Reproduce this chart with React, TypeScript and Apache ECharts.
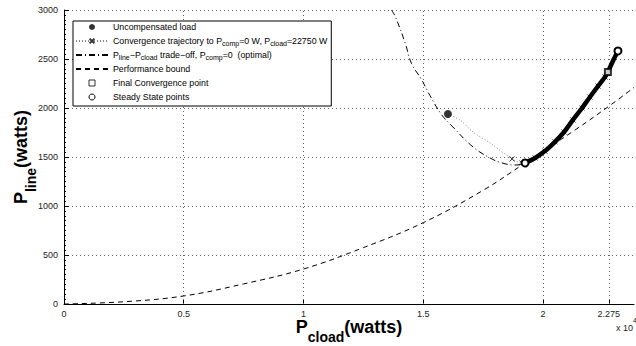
import React, { useEffect, useRef } from 'react';
import * as echarts from 'echarts';

const FONT = '"Liberation Sans", Arial, Helvetica, sans-serif';

// x axis ticks (W) and their labels (x 10^4)
const xTicks = [0, 5000, 10000, 15000, 20000, 22750];
const xTickLabels = ['0', '0.5', '1', '1.5', '2', '2.275'];

// Performance bound (dashed)
const boundX = [0, 2500, 5000, 7500, 10000, 12500, 15000, 17500, 19250, 21340, 22880, 23800];
const boundY = [0, 23, 82, 205, 357, 575, 830, 1160, 1439, 1776, 2041, 2210];

// P_line - P_cload trade-off (dash-dot), descending branch
const tradeX = [13670, 13820, 14240, 14510, 14930, 15210, 15760, 16200, 17080, 17790, 18290, 18830];
const tradeY = [3000, 2940, 2668, 2454, 2291, 2158, 1934, 1816, 1602, 1490, 1439, 1418];

// Steady-state band (dense steady state points)
const bandX = [19250, 19670, 20080, 20500, 20880, 21250, 21630, 21960, 22300, 22590, 22710, 22920, 23130];
const bandY = [1439, 1490, 1560, 1655, 1755, 1878, 2000, 2112, 2224, 2316, 2367, 2480, 2582];
const bandCircles = [0, 12]; // indices where steady-state circles are visible

// Convergence trajectory (dotted, x markers), start part
const trajX = [16030, 16530, 17080, 17790, 18710, 19120];
const trajY = [1939, 1878, 1755, 1643, 1480, 1439];
const trajMarked = [4, 5]; // iterations with a visible x marker in the first part

const uncompensated = [[16030, 1939]];
const finalPoint = [[22710, 2367]];

const legendNames = [
  'Uncompensated load',
  'Convergence trajectory',
  'Trade-off',
  'Performance bound',
  'Final Convergence point',
  'Steady State points',
];
const legendLabels: Record<string, string> = {
  'Uncompensated load': 'Uncompensated load',
  'Convergence trajectory': 'Convergence trajectory to P{s|comp}=0 W, P{s|cload}=22750 W',
  'Trade-off': 'P{s|line}\u2212P{s|cload} trade\u2212off, P{s|comp}=0  (optimal)',
  'Performance bound': 'Performance bound',
  'Final Convergence point': 'Final Convergence point',
  'Steady State points': 'Steady State points',
};

const zip = (xs: number[], ys: number[]) => xs.map((x, i) => [x, ys[i]]);

export default function App() {
  const ref = useRef<HTMLDivElement>(null);
  useEffect(() => {
    if (!ref.current) return;
    const chart = echarts.init(ref.current, null, { renderer: 'svg' });
    const nameRich = {
      m: { fontSize: 18, fontWeight: 'bold', color: '#000', fontFamily: FONT, verticalAlign: 'top', lineHeight: 26 },
      s: { fontSize: 14, fontWeight: 'bold', color: '#000', fontFamily: FONT, verticalAlign: 'bottom', lineHeight: 26 },
    };
    const tradeData = zip(tradeX, tradeY).concat(zip(bandX, bandY));
    const trajData: any[] = trajX
      .map((x, i) => (trajMarked.includes(i) ? { value: [x, trajY[i]] } : { value: [x, trajY[i]], symbol: 'none' }))
      .concat(bandX.slice(1, 11).map((x, i) => ({ value: [x, bandY[i + 1]] })));
    const bandData = bandX.map((x, i) =>
      bandCircles.includes(i) ? { value: [x, bandY[i]] } : { value: [x, bandY[i]], symbol: 'none' }
    );
    const gridLine = { type: [1, 3], color: '#666', width: 1 };
    const option: any = {
      animation: false,
      backgroundColor: '#fff',
      textStyle: { fontFamily: FONT },
      grid: { left: 64, top: 10, width: 570, height: 294, containLabel: false, outerBoundsMode: 'none' },
      xAxis: {
        type: 'value',
        min: 0,
        max: 23800,
        axisLine: { show: true, onZero: false, lineStyle: { color: '#000', width: 1 } },
        axisTick: { show: true, inside: true, length: 5, customValues: xTicks, lineStyle: { color: '#000' } },
        axisLabel: {
          customValues: xTicks,
          formatter: (v: number) => {
            const i = xTicks.indexOf(v);
            return i >= 0 ? xTickLabels[i] : '';
          },
          fontSize: 9,
          color: '#222',
          margin: 5,
          fontFamily: FONT,
        },
        splitLine: { show: false },
        name: '{m|P}{s|cload}{m|(watts)}',
        nameLocation: 'middle',
        nameGap: 14,
        nameMoveOverlap: false,
        nameTextStyle: { rich: nameRich },
      },
      yAxis: {
        type: 'value',
        min: 0,
        max: 3000,
        interval: 500,
        axisLine: { show: true, lineStyle: { color: '#000', width: 1 } },
        axisTick: { show: true, inside: true, length: 5, lineStyle: { color: '#000' } },
        minorTick: { show: true, splitNumber: 10, length: 2, lineStyle: { color: '#000' } },
        axisLabel: { fontSize: 9, color: '#222', margin: 6, fontFamily: FONT, formatter: (v: number) => String(v) },
        splitLine: { show: true, lineStyle: gridLine },
        name: '{m|P}{s|line}{m|(watts)}',
        nameLocation: 'middle',
        nameRotate: 90,
        nameGap: 26,
        nameMoveOverlap: false,
        nameTextStyle: { rich: nameRich },
      },
      legend: {
        orient: 'vertical',
        left: 73,
        top: 21,
        backgroundColor: '#fff',
        borderColor: '#000',
        borderWidth: 1,
        borderRadius: 0,
        padding: [0, 4, 3, 2],
        itemWidth: 32,
        itemHeight: 6,
        itemGap: 2,
        selectedMode: false,
        textStyle: {
          fontSize: 8.8,
          color: '#000',
          lineHeight: 12,
          fontFamily: FONT,
          rich: { s: { fontSize: 7, verticalAlign: 'bottom', fontFamily: FONT, color: '#000' } },
        },
        formatter: (name: string) => legendLabels[name] || name,
        data: [
          { name: legendNames[0] },
          { name: legendNames[1] },
          { name: legendNames[2], itemStyle: { opacity: 0 } },
          { name: legendNames[3], itemStyle: { opacity: 0 } },
          {
            name: legendNames[4],
            icon: 'path://M0,0L10,0L10,10L0,10Z',
            itemStyle: { color: '#fff', borderColor: '#000', borderWidth: 1 },
          },
          {
            name: legendNames[5],
            icon: 'circle',
            itemStyle: { color: '#fff', borderColor: '#000', borderWidth: 1 },
          },
        ],
      },
      series: [
        {
          name: 'Performance bound',
          type: 'line',
          data: zip(boundX, boundY),
          smooth: 0.4,
          symbol: 'none',
          lineStyle: { color: '#000', width: 1, type: [5, 4] },
          z: 2,
          markLine: {
            silent: true,
            symbol: 'none',
            label: { show: false },
            lineStyle: gridLine,
            emphasis: { disabled: true },
            data: xTicks.slice(1).map((v) => ({ xAxis: v })),
            z: 1,
          },
        },
        {
          name: 'Trade-off',
          type: 'line',
          data: tradeData,
          smooth: 0.4,
          symbol: 'none',
          lineStyle: { color: '#000', width: 1, type: [6, 3, 1, 3] },
          z: 2,
        },
        {
          name: 'Convergence trajectory',
          type: 'line',
          data: trajData,
          smooth: 0.3,
          symbol: 'path://M0,0L10,10M0,10L10,0',
          symbolSize: 5,
          showSymbol: true,
          showAllSymbol: true,
          itemStyle: { color: '#000', borderColor: '#333', borderWidth: 1 },
          lineStyle: { color: '#888', width: 1, type: [1, 2] },
          z: 3,
        },
        {
          name: 'Steady State points',
          type: 'line',
          data: bandData,
          smooth: 0.3,
          symbol: 'emptyCircle',
          symbolSize: 7,
          showSymbol: true,
          showAllSymbol: true,
          itemStyle: { color: '#000', borderWidth: 1.2 },
          lineStyle: { color: '#000', width: 4.5 },
          z: 4,
        },
        {
          name: 'Final Convergence point',
          type: 'scatter',
          data: finalPoint,
          symbol: 'emptyRect',
          symbolSize: 6,
          itemStyle: { color: '#000', borderWidth: 1 },
          z: 5,
        },
        {
          name: 'Uncompensated load',
          type: 'scatter',
          data: uncompensated,
          symbol: 'circle',
          symbolSize: 8,
          itemStyle: { color: '#000' },
          z: 5,
        },
      ],
      graphic: [
        { type: 'text', left: 616, top: 323, style: { text: 'x 10', fontSize: 9, fill: '#222', fontFamily: FONT } },
        { type: 'text', left: 633, top: 317, style: { text: '4', fontSize: 7, fill: '#222', fontFamily: FONT } },
      ],
    };
    chart.setOption(option);
    return () => chart.dispose();
  }, []);
  return <div ref={ref} style={{ position: 'fixed', left: 0, top: 0, width: 636, height: 346 }} />;
}
